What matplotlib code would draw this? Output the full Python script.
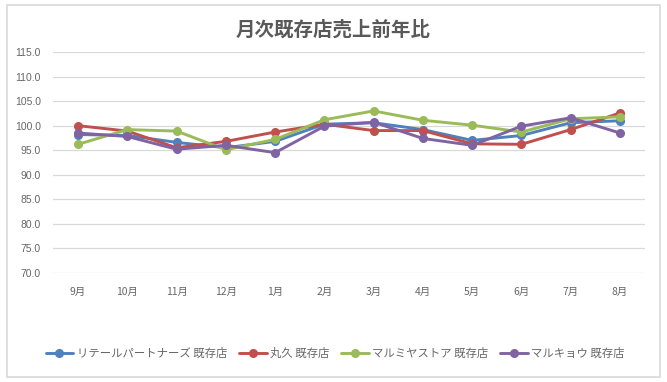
import matplotlib
matplotlib.use("Agg")
import matplotlib.pyplot as plt
from matplotlib.patches import Rectangle

plt.rcParams['font.family'] = ['Noto Sans CJK JP', 'DejaVu Sans']

months = ["9月", "10月", "11月", "12月", "1月", "2月", "3月", "4月", "5月", "6月", "7月", "8月"]
retail_partners = [98.2, 98.0, 96.6, 95.5, 96.8, 100.3, 100.6, 99.2, 97.0, 98.0, 100.6, 101.0]
marukyu = [100.0, 98.9, 95.5, 96.8, 98.7, 100.3, 99.0, 99.0, 96.3, 96.2, 99.2, 102.6]
marumiya = [96.2, 99.2, 98.9, 95.1, 97.2, 101.2, 103.0, 101.1, 100.1, 98.7, 101.4, 101.8]
marukyo = [98.5, 97.8, 95.2, 96.0, 94.5, 99.9, 100.7, 97.4, 96.0, 99.9, 101.6, 98.5]

series_names = ["リテールパートナーズ 既存店", "丸久 既存店", "マルミヤストア 既存店", "マルキョウ 既存店"]
series = [retail_partners, marukyu, marumiya, marukyo]
colors = ["#4F81BD", "#C0504D", "#9BBB59", "#8064A2"]

yticks = [70, 75, 80, 85, 90, 95, 100, 105, 110, 115]

fig = plt.figure(figsize=(6.67, 3.82), dpi=100)
fig.patch.set_facecolor("white")
fig.patches.append(Rectangle((7 / 667, 1 - 377 / 382), 653 / 667, 372 / 382,
                             transform=fig.transFigure, fill=False,
                             edgecolor="#D9D9D9", linewidth=1.2))

ax = fig.add_axes([53.4 / 667, 1 - 273 / 382, 591.2 / 667, 221 / 382])
x = list(range(len(months)))
for name, vals, c in zip(series_names, series, colors):
    ax.plot(x, vals, color=c, linewidth=2.1, marker="o", markersize=5.5,
            label=name, solid_joinstyle="round", solid_capstyle="round")

ax.set_xlim(-0.5, len(months) - 0.5)
ax.set_ylim(70, 115)
ax.set_yticks(yticks)
ax.set_yticklabels([f"{v:.1f}" for v in yticks], fontsize=7.5, color="#666666",
                   family=['Liberation Sans', 'DejaVu Sans'])
ax.set_xticks(x)
ax.set_xticklabels(months, fontsize=7.5, color="#666666")
ax.grid(axis="y", color="#D9D9D9", linewidth=0.9)
ax.set_axisbelow(True)
for s in ax.spines.values():
    s.set_visible(False)
ax.tick_params(axis="both", length=0)
ax.tick_params(axis="y", pad=9)
ax.tick_params(axis="x", pad=10)

fig.text(333 / 667, 1 - 30 / 382, "月次既存店売上前年比", ha="center", va="center",
         fontsize=14, fontweight="bold", color="#595959")

leg = fig.legend(loc="center", bbox_to_anchor=(335 / 667, 1 - 353 / 382), ncol=4,
                 frameon=False, fontsize=8.2, handlelength=2.45, handletextpad=0.3,
                 columnspacing=1.0)
for t in leg.get_texts():
    t.set_color("#666666")

fig.savefig("out.png", dpi=100, facecolor="white")
